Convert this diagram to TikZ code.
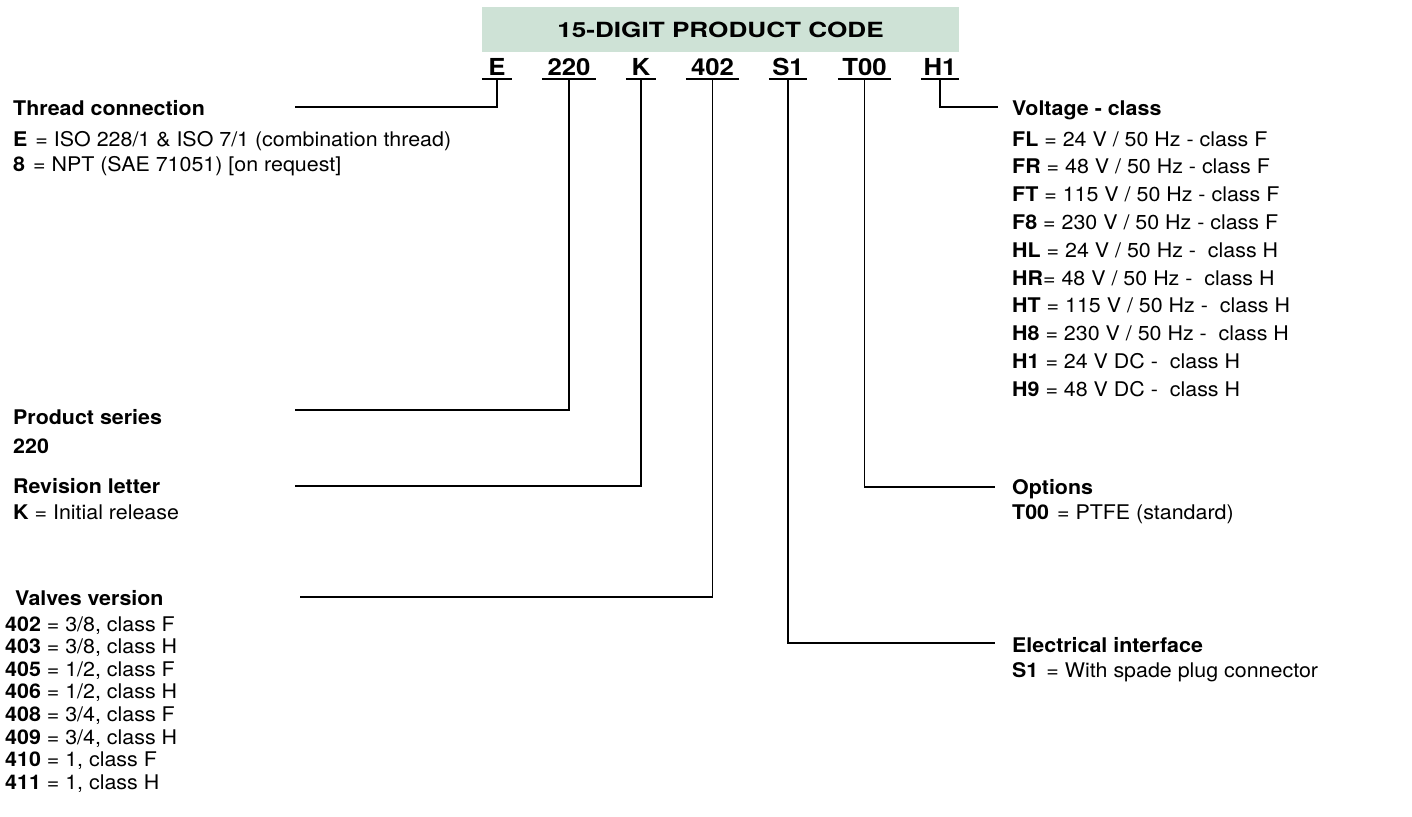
\documentclass[tikz,border=0pt]{standalone}
\usepackage{fontspec}
\setmainfont{TeX Gyre Heros}[FakeStretch=1.06]
\newfontfamily\hdrfont{TeX Gyre Heros}[FakeStretch=1.25]
\newfontfamily\codefont{TeX Gyre Heros}[FakeStretch=1.1]
\definecolor{hdrgreen}{RGB}{206,226,214}
\begin{document}
\begin{tikzpicture}[x=1pt,y=-1pt,
  txt/.style={anchor=base west,inner sep=0pt,font=\fontsize{20.2}{22}\selectfont},
  codebox/.style={anchor=south,inner sep=0pt,text depth=3pt,font=\codefont\bfseries\fontsize{23.4}{25}\selectfont},
  conn/.style={line width=1.4pt},
  uline/.style={line width=1.9pt}]
\useasboundingbox (0,0) rectangle (1412,816);

% header
\node[fill=hdrgreen,minimum width=477pt,minimum height=45pt,inner sep=0pt,
      font=\hdrfont\bfseries\fontsize{20.9}{22}\selectfont] (hdr) at (720.5,29.5) {15-DIGIT PRODUCT CODE};

% code letters
\node[codebox,minimum width=30pt] (cE) at (497,79) {E};
\node[codebox,minimum width=54pt] (c220) at (569,79) {220};
\node[codebox,minimum width=30pt] (cK) at (641,79) {K};
\node[codebox,minimum width=53pt] (c402) at (712.5,79) {402};
\node[codebox,minimum width=38pt] (cS1) at (788,79) {S1};
\node[codebox,minimum width=53pt] (cT00) at (864.5,79) {T00};
\node[codebox,minimum width=38pt] (cH1) at (940,79) {H1};
\foreach \n in {cE,c220,cK,c402,cS1,cT00,cH1}
  \draw[uline] (\n.south west) -- (\n.south east);

% connector ends
\coordinate (eThr) at (295,107);
\coordinate (eSer) at (295,410);
\coordinate (eRev) at (295,486);
\coordinate (eVal) at (300,597);
\coordinate (eVolt) at (998,107);
\coordinate (eOpt) at (995,487);
\coordinate (eEl) at (995,643);

\draw[conn] (cE.south) |- (eThr);
\draw[conn] (c220.south) |- (eSer);
\draw[conn] (cK.south) |- (eRev);
\draw[conn] (c402.south) |- (eVal);
\draw[conn] (cS1.south) |- (eEl);
\draw[conn] (cT00.south) |- (eOpt);
\draw[conn] (cH1.south) |- (eVolt);

% left texts
\node[txt] (thr) at (13,115) {\bfseries Thread connection};
\node[txt] (thr1) at (13,146) {\textbf{E}\hspace{8pt}= ISO 228/1 \& ISO 7/1 (combination thread)};
\node[txt] (thr2) at (13,171) {\textbf{8}\hspace{8pt}= NPT (SAE 71051) [on request]};

\node[txt] (ser) at (13,424) {\bfseries Product series};
\node[txt] (ser1) at (13,453) {\bfseries 220};

\node[txt] (rev) at (13,493) {\bfseries Revision letter};
\node[txt] (rev1) at (13,519) {\textbf{K} = Initial release};

\node[txt] (val) at (15,605) {\bfseries Valves version};
\foreach \i/\c/\t in {0/402/{3/8, class F},1/403/{3/8, class H},2/405/{1/2, class F},3/406/{1/2, class H},
                     4/408/{3/4, class F},5/409/{3/4, class H},6/410/{1, class F},7/411/{1, class H}}
  \node[txt] (val\c) at (5,631+22.6*\i) {\textbf{\c} = \t};

% right texts
\node[txt] (volt) at (1012,115) {\bfseries Voltage - class};
\foreach \i/\c/\t in {0/FL/{ = 24 V / 50 Hz - class F},1/FR/{ = 48 V / 50 Hz - class F},
                     2/FT/{ = 115 V / 50 Hz - class F},3/F8/{ = 230 V / 50 Hz - class F},
                     4/HL/{ = 24 V / 50 Hz - \ class H},5/HR/{= 48 V / 50 Hz - \ class H},
                     6/HT/{ = 115 V / 50 Hz - \ class H},7/H8/{ = 230 V / 50 Hz - \ class H},
                     8/H1/{ = 24 V DC - \ class H},9/H9/{ = 48 V DC - \ class H}}
  \node[txt] (volt\c) at (1012,146+27.8*\i) {\textbf{\c}\t};

\node[txt] (opt) at (1012,494) {\bfseries Options};
\node[txt] (opt1) at (1012,519) {\textbf{T00}\hspace{8pt}= PTFE (standard)};

\node[txt] (el) at (1012,652) {\bfseries Electrical interface};
\node[txt] (el1) at (1012,677) {\textbf{S1}\hspace{8pt}= With spade plug connector};
\end{tikzpicture}
\end{document}
